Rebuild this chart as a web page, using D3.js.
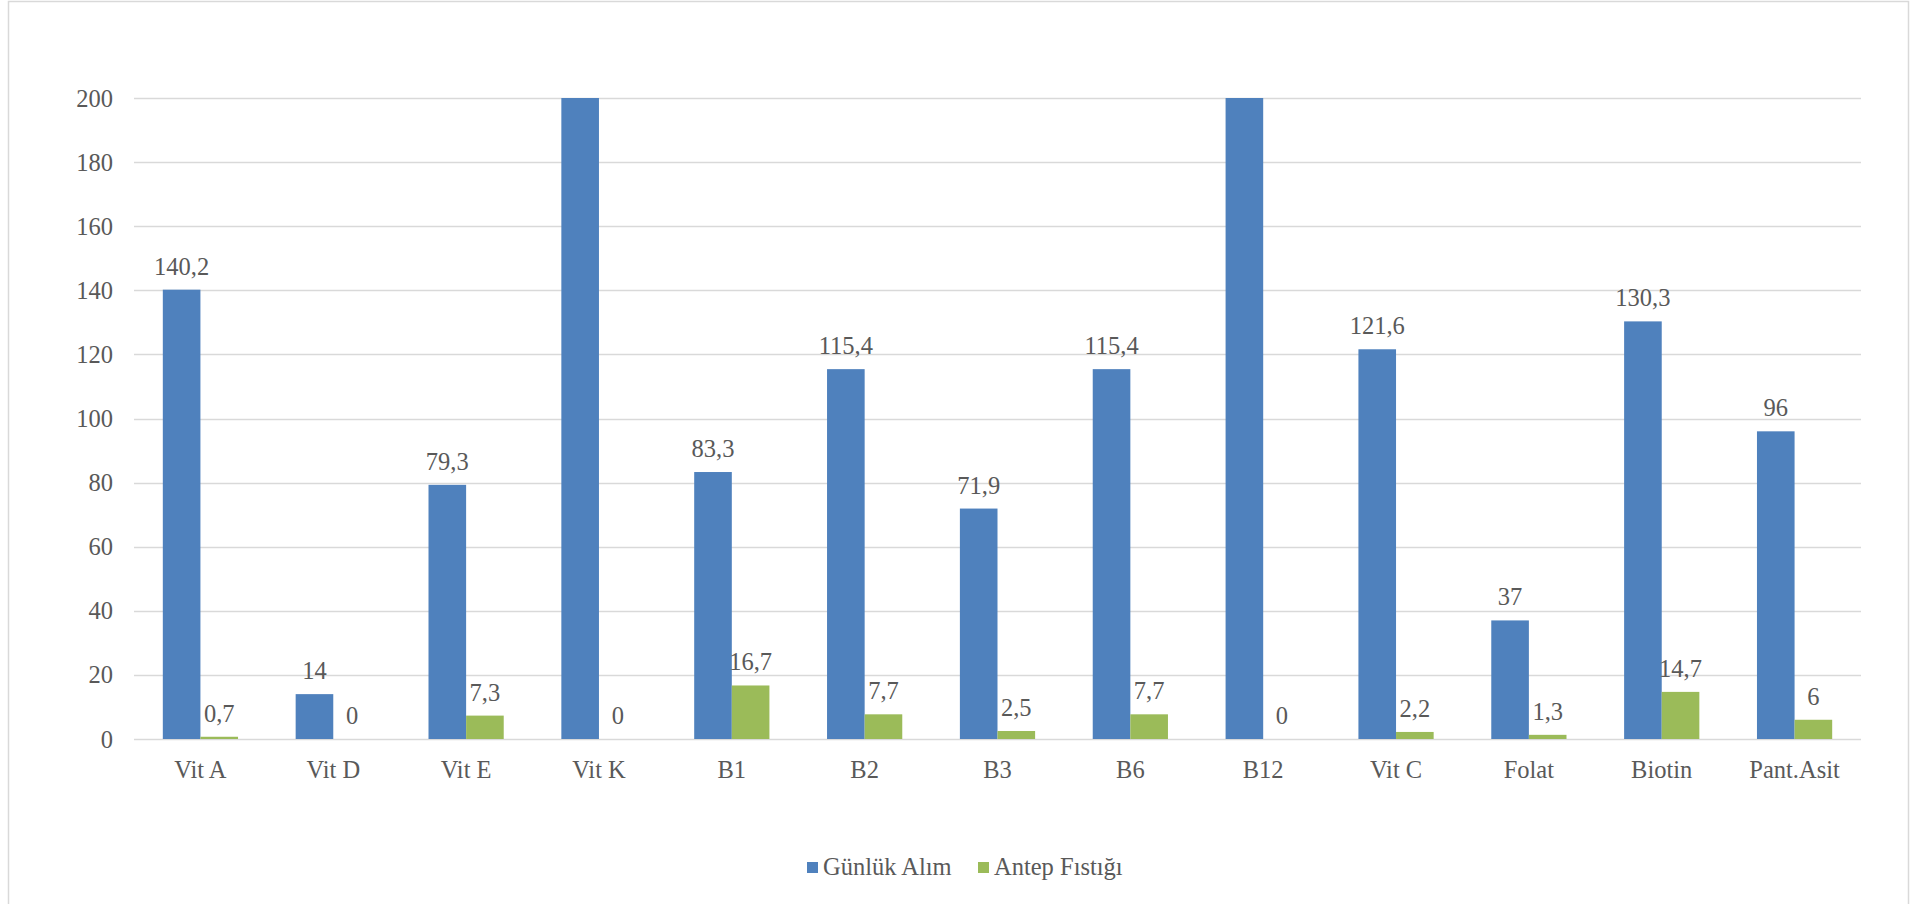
<!DOCTYPE html>
<html>
<head>
<meta charset="utf-8">
<script src="https://cdn.jsdelivr.net/npm/d3@7"></script>
<style>
  html, body { margin: 0; padding: 0; background: #fff; }
  svg { display: block; }
  text { font-family: "Liberation Serif", "Times New Roman", serif; fill: #595959; }
</style>
</head>
<body>
<svg id="chart" width="1919" height="904" font-family="Liberation Serif, Times New Roman, serif"></svg>
<script>
const categories = ["Vit A", "Vit D", "Vit E", "Vit K", "B1", "B2", "B3", "B6", "B12", "Vit C", "Folat", "Biotin", "Pant.Asit"];
const seriesNames = ["Günlük Alım", "Antep Fıstığı"];
// Vit K and B12 bars run past the 200 axis maximum; their labels are not visible in the picture
const gunlukAlim = [140.2, 14, 79.3, 200, 83.3, 115.4, 71.9, 115.4, 200, 121.6, 37, 130.3, 96];
const gunlukLabels = ["140,2", "14", "79,3", "", "83,3", "115,4", "71,9", "115,4", "", "121,6", "37", "130,3", "96"];
const antepFistigi = [0.7, 0, 7.3, 0, 16.7, 7.7, 2.5, 7.7, 0, 2.2, 1.3, 14.7, 6];
const antepLabels = ["0,7", "0", "7,3", "0", "16,7", "7,7", "2,5", "7,7", "0", "2,2", "1,3", "14,7", "6"];
const yTicks = [0, 20, 40, 60, 80, 100, 120, 140, 160, 180, 200];
const colors = ["#4F81BD", "#9BBB59"];

const svg = d3.select("#chart");
const FS = 24.5;

// outer border
svg.append("rect").attr("x", 8.5).attr("y", 1.5).attr("width", 1900).attr("height", 920)
  .attr("fill", "none").attr("stroke", "#D9D9D9").attr("stroke-width", 1.5);

const x0 = d3.scaleBand().domain(categories).range([134, 1861]).paddingInner(0).paddingOuter(0);
const x1 = d3.scaleBand().domain([0, 1]).range([0, x0.bandwidth()]).paddingInner(0).paddingOuter(0.766);
const y = d3.scaleLinear().domain([0, 200]).range([739, 98]);

// gridlines
svg.append("g").selectAll("line").data(yTicks).join("line")
  .attr("x1", 134).attr("x2", 1861)
  .attr("y1", d => Math.round(y(d)) + 0.5).attr("y2", d => Math.round(y(d)) + 0.5)
  .attr("stroke", "#D9D9D9").attr("stroke-width", 1.5);

// y tick labels
svg.append("g").selectAll("text").data(yTicks).join("text")
  .attr("x", 113).attr("y", d => y(d))
  .attr("dy", "0.35em")
  .attr("text-anchor", "end")
  .attr("font-size", FS)
  .text(d => d);

const seriesData = [gunlukAlim, antepFistigi];
const seriesLabels = [gunlukLabels, antepLabels];

seriesData.forEach((vals, si) => {
  const g = svg.append("g");
  g.selectAll("rect").data(vals).join("rect")
    .attr("x", (d, i) => x0(categories[i]) + x1(si))
    .attr("width", x1.bandwidth())
    .attr("y", d => y(Math.min(d, 200)))
    .attr("height", d => y(0) - y(Math.min(d, 200)))
    .attr("fill", colors[si]);
  g.selectAll("text").data(vals).join("text")
    .attr("x", (d, i) => x0(categories[i]) + x1(si) + x1.bandwidth() / 2)
    .attr("y", d => y(Math.min(d, 200)) - 15)
    .attr("text-anchor", "middle")
    .attr("font-size", FS)
    .text((d, i) => seriesLabels[si][i]);
});

// x labels
svg.append("g").selectAll("text").data(categories).join("text")
  .attr("x", d => x0(d) + x0.bandwidth() / 2)
  .attr("y", 778)
  .attr("text-anchor", "middle")
  .attr("font-size", FS)
  .text(d => d);

// legend
const legendItems = [{name: seriesNames[0], x: 807}, {name: seriesNames[1], x: 978}];
const lg = svg.append("g");
legendItems.forEach((it, i) => {
  lg.append("rect").attr("x", it.x).attr("y", 862).attr("width", 11).attr("height", 11).attr("fill", colors[i]);
  lg.append("text").attr("x", it.x + 16).attr("y", 875).attr("font-size", FS).text(it.name);
});
</script>
</body>
</html>
